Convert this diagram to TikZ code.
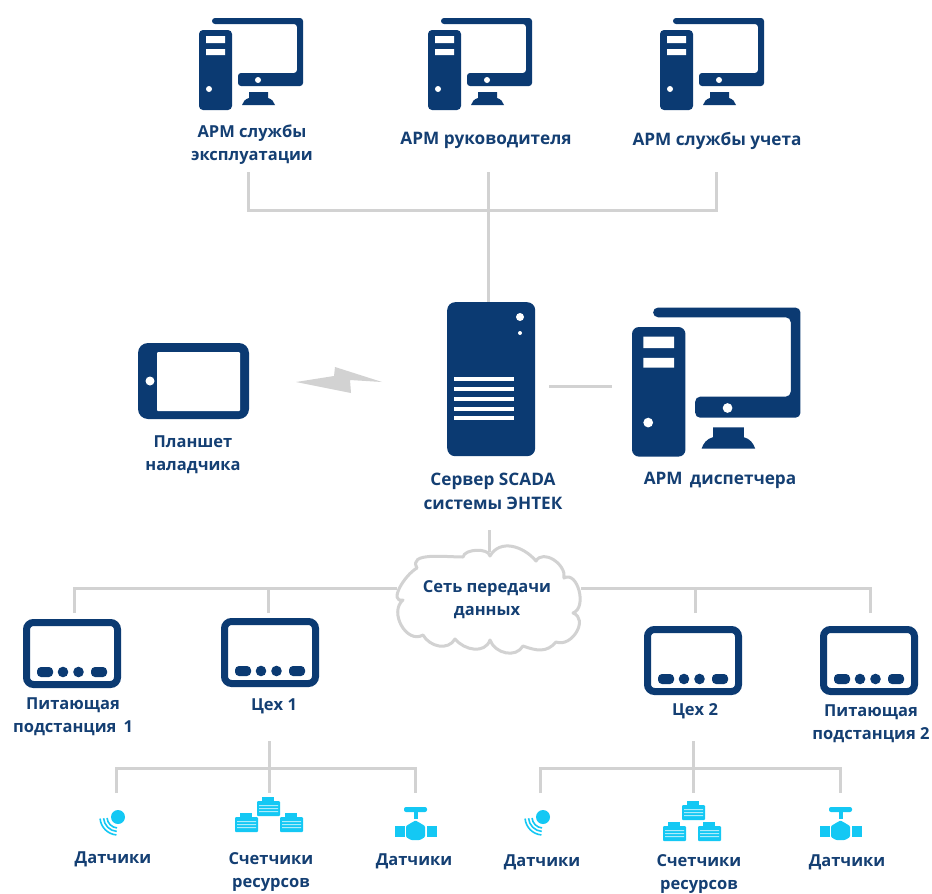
\documentclass[tikz,border=0pt]{standalone}
\usepackage{fontspec}
\setmainfont{Open Sans}
\definecolor{navy}{HTML}{0B3A72}
\definecolor{txt}{HTML}{143F73}
\definecolor{cyanic}{HTML}{14C8F4}
\definecolor{wire}{HTML}{D2D2D2}
\def\wsr{4pt}
\def\wsm{3pt}
\tikzset{
  wirel/.style={draw=wire,line width=3pt},
  lbl/.style={text=txt,font=\fontsize{17.2}{24}\selectfont\bfseries,align=center,inner sep=0pt},
  lbls/.style={lbl,font=\fontsize{16.5}{23}\selectfont\bfseries},
  workstation/.pic={
    \fill[navy,rounded corners=\wsr] (0,0) rectangle (33,80);
    \fill[white] (7,6) rectangle (26,13) (7,19) rectangle (26,25);
    \fill[white] (10,59) circle (3);
    \fill[navy,rounded corners=\wsm] (13,-6) -- (13,-12) -- (104,-12) -- (104,56) -- (39,56) -- (39,43) -- (98,43) -- (98,-6) -- cycle;
    \fill[white] (59,50) circle (3);
    \fill[navy] (50,62) -- (69,62) -- (69,68) .. controls (73,69) and (75,72) .. (76,75) -- (43,75) .. controls (44,72) and (46,69) .. (50,68) -- cycle;
  },
  device/.pic={
    \draw[navy,line width=7pt,rounded corners=7pt] (3.5,3.5) rectangle (94.5,65.5);
    \fill[navy,rounded corners=4pt] (14,48) rectangle (30,58);
    \fill[navy] (40,53) circle (5.3) (55.5,53) circle (5.3);
    \fill[navy,rounded corners=4pt] (68,48) rectangle (84,58);
  },
  sensoric/.pic={
    \fill[cyanic] (0,0) circle (7);
    \foreach \rr in {11,14.5,18}{
      \draw[cyanic,line width=1.6pt] (95:\rr) arc[start angle=95,end angle=175,radius=\rr];
    }
  },
  netbox/.pic={
    \fill[cyanic] (5,-4) rectangle (17,1);
    \fill[cyanic,rounded corners=1pt] (0,0) rectangle (23,15);
    \fill[white!65!cyanic] (2,4) rectangle (21,5) (2,7) rectangle (21,8) (2,10) rectangle (21,11);
  },
  valveic/.pic={
    \fill[cyanic,rounded corners=2pt] (0,0) rectangle (23,5);
    \fill[cyanic] (9.5,5) rectangle (13.5,12);
    \fill[cyanic,rounded corners=1pt] (7,16) -- (11.5,13.5) -- (16,16) -- (21,19) -- (21,30) -- (16,33) -- (7,33) -- (2,30) -- (2,19) -- cycle;
    \fill[cyanic] (-9,19) rectangle (1,30);
    \fill[cyanic] (23,19) rectangle (33,30);
  },
}
\begin{document}
\begin{tikzpicture}[x=1pt,y=-1pt]
\useasboundingbox (0,0) rectangle (932,894);
\fill[white] (0,0) rectangle (932,894);

% top connectors
\coordinate (a1) at (248,172);
\coordinate (a2) at (488,172);
\coordinate (a3) at (716,172);
\coordinate (busL) at (248,210);
\coordinate (busM) at (488,210);
\coordinate (busR) at (716,210);
\node[fill=navy,rounded corners=8pt,minimum width=88pt,minimum height=154pt,inner sep=0pt,anchor=north west] (srv) at (447,302) {};
\draw[wirel] (a1) -- (busL) -- (busR) -- (a3);
\draw[wirel] (a2) -- (busM) -- (busM |- srv.north);

% workstations
\pic at (199,30) {workstation};
\pic at (428,30) {workstation};
\pic at (660,30) {workstation};
\begin{scope}
\def\wsr{7pt}\def\wsm{5pt}
\pic[scale=1.62] at (632,327) {workstation};
\end{scope}
\node[lbls] (l1) at (252,145) {АРМ службы\\эксплуатации};
\node[lbl] (l2) at (486,140) {АРМ руководителя};
\node[lbl] (l3) at (717,141) {АРМ службы учета};
\node[lbl] (l4) at (720,480) {АРМ\, диспетчера};

% server
\fill[white] (520,317) circle (4) (520,333) circle (2);
\foreach \yy in {379,389,399,408.5,418} \fill[white] (454,\yy-2) rectangle (514,\yy+2);
\node[lbl] (l5) at (493,491) {Сервер SCADA\\системы ЭНТЕК};
\coordinate (s1) at (549,386);
\coordinate (s2) at (612,386);
\draw[wirel] (s1) -- (s2);

% tablet
\fill[navy,rounded corners=10pt] (138,343) rectangle (249,419);
\fill[white,rounded corners=1pt] (157,352) rectangle (240,411);
\fill[white] (150,381) circle (4.5);
\node[lbls] (l6) at (193,455) {Планшет\\наладчика};
\fill[wire] (296,382) -- (334,376) -- (335,367) -- (382,382) -- (350,380) -- (351,393) -- cycle;

% network wires
\coordinate (n0) at (489,530);
\coordinate (n1) at (489,552);
\coordinate (nl) at (397,588);
\coordinate (nr) at (581,588);
\coordinate (t1) at (74,613);
\coordinate (t2) at (268,613);
\coordinate (t3) at (695,613);
\coordinate (t4) at (870,613);
\draw[wirel] (n0) -- (n1);
\draw[wirel] (t1) |- (nl);
\draw[wirel] (t2) -- (t2 |- nl);
\draw[wirel] (t3) -- (t3 |- nr);
\draw[wirel] (t4) |- (nr);

% cloud
\draw[wire,line width=3pt,fill=white,line join=round]
 (403,600) to[out=190,in=210,looseness=1.1] (417,568)
 to[out=120,in=180,looseness=1] (463,557)
 to[out=80,in=100,looseness=.8] (490,556)
 to[out=60,in=130,looseness=1.1] (536,561)
 to[out=60,in=80,looseness=1.1] (564,578)
 to[out=30,in=20,looseness=1.1] (573,613)
 to[out=-20,in=-20,looseness=1.3] (556,642)
 to[out=-130,in=-20,looseness=1.1] (523,646)
 to[out=-120,in=-70,looseness=1.1] (490,640)
 to[out=-110,in=-50,looseness=1.1] (455,639)
 to[out=-120,in=-60,looseness=1.1] (423,635)
 to[out=-150,in=-140,looseness=1.2] (403,600) -- cycle;
\node[lbls] (cl) at (487,600) {Сеть передачи\\данных};

% devices
\pic at (23,619) {device};
\pic at (221,618) {device};
\pic at (644,626) {device};
\pic at (820,626) {device};
\node[lbls] (d1) at (73,717) {Питающая\\подстанция\, 1};
\node[lbls] (d2) at (274,706) {Цех 1};
\node[lbls] (d3) at (695,711) {Цех 2};
\node[lbls] (d4) at (871,724) {Питающая\\подстанция 2};

% lower groups
\coordinate (g1) at (269,741);
\coordinate (g1l) at (116,793);
\coordinate (g1m) at (269,793);
\coordinate (g1r) at (415,793);
\coordinate (g1b) at (116,768);
\draw[wirel] (g1) -- (g1m);
\draw[wirel] (g1l) |- (g1r |- g1b) -- (g1r);
\coordinate (g2) at (693,741);
\coordinate (g2l) at (540,793);
\coordinate (g2m) at (693,793);
\coordinate (g2r) at (840,793);
\coordinate (g2b) at (540,768);
\draw[wirel] (g2) -- (g2m);
\draw[wirel] (g2l) |- (g2r |- g2b) -- (g2r);

\pic at (118,817) {sensoric};
\pic at (543,817) {sensoric};
\pic at (257,801) {netbox};
\pic at (235,817) {netbox};
\pic at (280,817) {netbox};
\pic at (682,805) {netbox};
\pic at (663,826) {netbox};
\pic at (698,826) {netbox};
\pic at (404,807) {valveic};
\pic at (829,807) {valveic};

\node[lbls] (s1t) at (113,859) {Датчики};
\node[lbls] (s2t) at (271,871.5) {Счетчики\\ресурсов};
\node[lbls] (s3t) at (414,861) {Датчики};
\node[lbls] (s4t) at (542,862) {Датчики};
\node[lbls] (s5t) at (699,873.5) {Счетчики\\ресурсов};
\node[lbls] (s6t) at (847,862) {Датчики};
\end{tikzpicture}
\end{document}
